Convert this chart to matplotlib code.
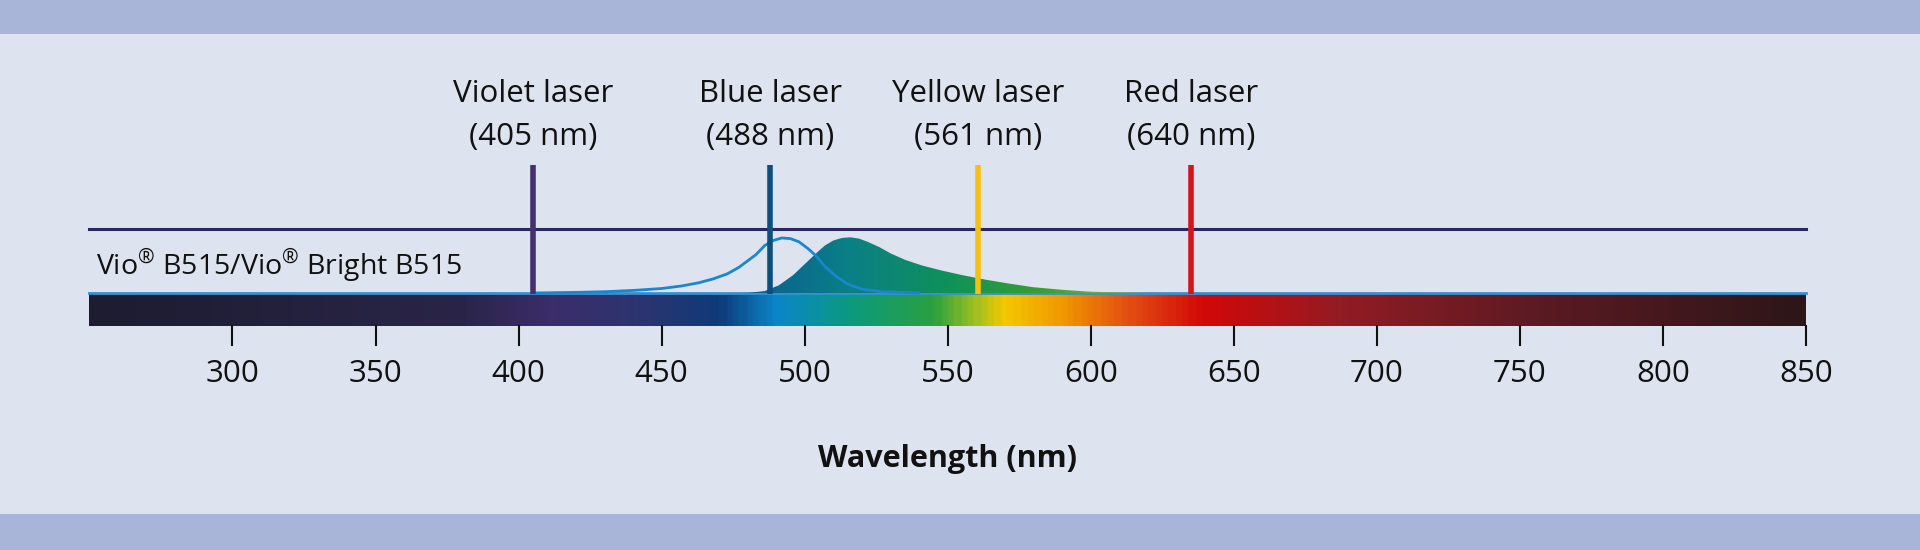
import numpy as np
import matplotlib
matplotlib.use("Agg")
import matplotlib.pyplot as plt
from matplotlib.colors import LinearSegmentedColormap
from matplotlib.path import Path
from matplotlib.patches import PathPatch

# ---- data ----
ticks = [300, 350, 400, 450, 500, 550, 600, 650, 700, 750, 800, 850]
laser_names = ["Violet laser", "Blue laser", "Yellow laser", "Red laser"]
laser_labels = ["(405 nm)", "(488 nm)", "(561 nm)", "(640 nm)"]
laser_pos = [405, 488, 560.5, 635]
laser_colors = ["#45306e", "#0b4f7c", "#f7bf10", "#d7141a"]
ex_wl = [405, 420, 430, 440, 450, 457, 463, 468, 473, 477, 480, 483, 486, 489, 492,
         495, 498, 501, 504, 507, 511, 515, 520, 527, 540]
ex_val = [0, 1, 2, 4, 7, 11, 16, 22, 30, 40, 50, 60, 74, 82, 86, 85, 80, 70, 58,
          42, 26, 14, 6, 2, 0]
em_wl = [480, 486, 491, 496, 500, 504, 507, 510, 513, 516, 519, 522, 526, 530, 535,
         541, 548, 555, 563, 571, 580, 590, 600, 610, 620]
em_val = [0, 3, 12, 28, 45, 62, 74, 82, 86, 87, 85, 80, 72, 62, 52, 43, 35, 28, 21,
          15, 9, 5, 2, 1, 0]
series_label = "Vio$^{®}$ B515/Vio$^{®}$ Bright B515"

BG = "#dde3ef"; BAND = "#a8b4d8"; NAVY = "#2b2660"
W, H = 1920, 550
fig = plt.figure(figsize=(19.2, 5.5), dpi=100, facecolor=BG)
ax = fig.add_axes([0, 0, 1, 1])
ax.set_facecolor(BG)
x0, x1 = 250 - 89.4 / 2.861, 850 + 114 / 2.861
ax.set_xlim(x0, x1); ax.set_ylim(H, 0)
ax.axis("off")
font = "Open Sans"
plt.rcParams["mathtext.fontset"] = "custom"
plt.rcParams["mathtext.rm"] = font

ax.axhspan(0, 34, color=BAND, lw=0)
ax.axhspan(514, 550, color=BAND, lw=0)

# spectrum bar
cols = [(0, "#1d1c30"), ((380-250)/600, "#2a2548"), ((410-250)/600, "#3a2d6a"),
        ((440-250)/600, "#2e3470"), ((470-250)/600, "#0f3a78"), ((490-250)/600, "#0a86c8"),
        ((515-250)/600, "#0a9a80"), ((545-250)/600, "#2aa040"), ((560-250)/600, "#a0c020"),
        ((570-250)/600, "#f4c800"), ((590-250)/600, "#f09a00"), ((615-250)/600, "#e24a12"),
        ((640-250)/600, "#d20808"), ((690-250)/600, "#901c24"), ((760-250)/600, "#5a1a22"),
        (1, "#2c1618")]
cmap = LinearSegmentedColormap.from_list("spec", cols)
grad = np.linspace(0, 1, 600)[None, :]
ax.imshow(grad, cmap=cmap, extent=[250, 850, 326, 294], aspect="auto", zorder=1)
ax.plot([250, 850], [293, 293], color="#3a8fd0", lw=2, zorder=2)
ax.plot([250, 850], [229, 229], color=NAVY, lw=2.2, zorder=2)

for t in ticks:
    ax.plot([t, t], [326, 345], color="#111", lw=1.5)
    ax.text(t, 374, str(t), ha="center", va="center", fontsize=22.5, family=font, color="#111")
ax.text(550, 459, "Wavelength (nm)", ha="center", va="center", fontsize=22,
        family=font, weight="bold", color="#111")

# emission fill with gradient
base, sc = 293, 0.64
ey = [base - v * sc for v in em_val]
verts = list(zip(em_wl, ey)) + [(em_wl[-1], base), (em_wl[0], base)]
path = Path(verts + [verts[0]], [Path.MOVETO] + [Path.LINETO] * (len(verts) - 1) + [Path.CLOSEPOLY])
patch = PathPatch(path, facecolor="none", edgecolor="none")
ax.add_patch(patch)
emc = LinearSegmentedColormap.from_list("em", ["#0a5d92", "#0a7f86", "#10915a", "#3aa030", "#9cc040"])
im = ax.imshow(np.linspace(0, 1, 200)[None, :], cmap=emc, extent=[480, 620, base, 230],
               aspect="auto", zorder=3)
im.set_clip_path(patch)
exy = [base - v * sc for v in ex_val]
ax.plot(ex_wl, exy, color="#1a86cc", lw=2, zorder=4)

for n, l, p, c in zip(laser_names, laser_labels, laser_pos, laser_colors):
    ax.plot([p, p], [165, 294], color=c, lw=4, zorder=5, solid_capstyle="butt")
    ax.text(p, 94, n, ha="center", va="center", fontsize=22.5, family=font, color="#111")
    ax.text(p, 137, l, ha="center", va="center", fontsize=22.5, family=font, color="#111")

ax.text(x0 + 96 / 2.861, 266, series_label, ha="left", va="center", fontsize=20.5,
        family=font, color="#111")

fig.savefig("out.png", dpi=100, facecolor=BG)
